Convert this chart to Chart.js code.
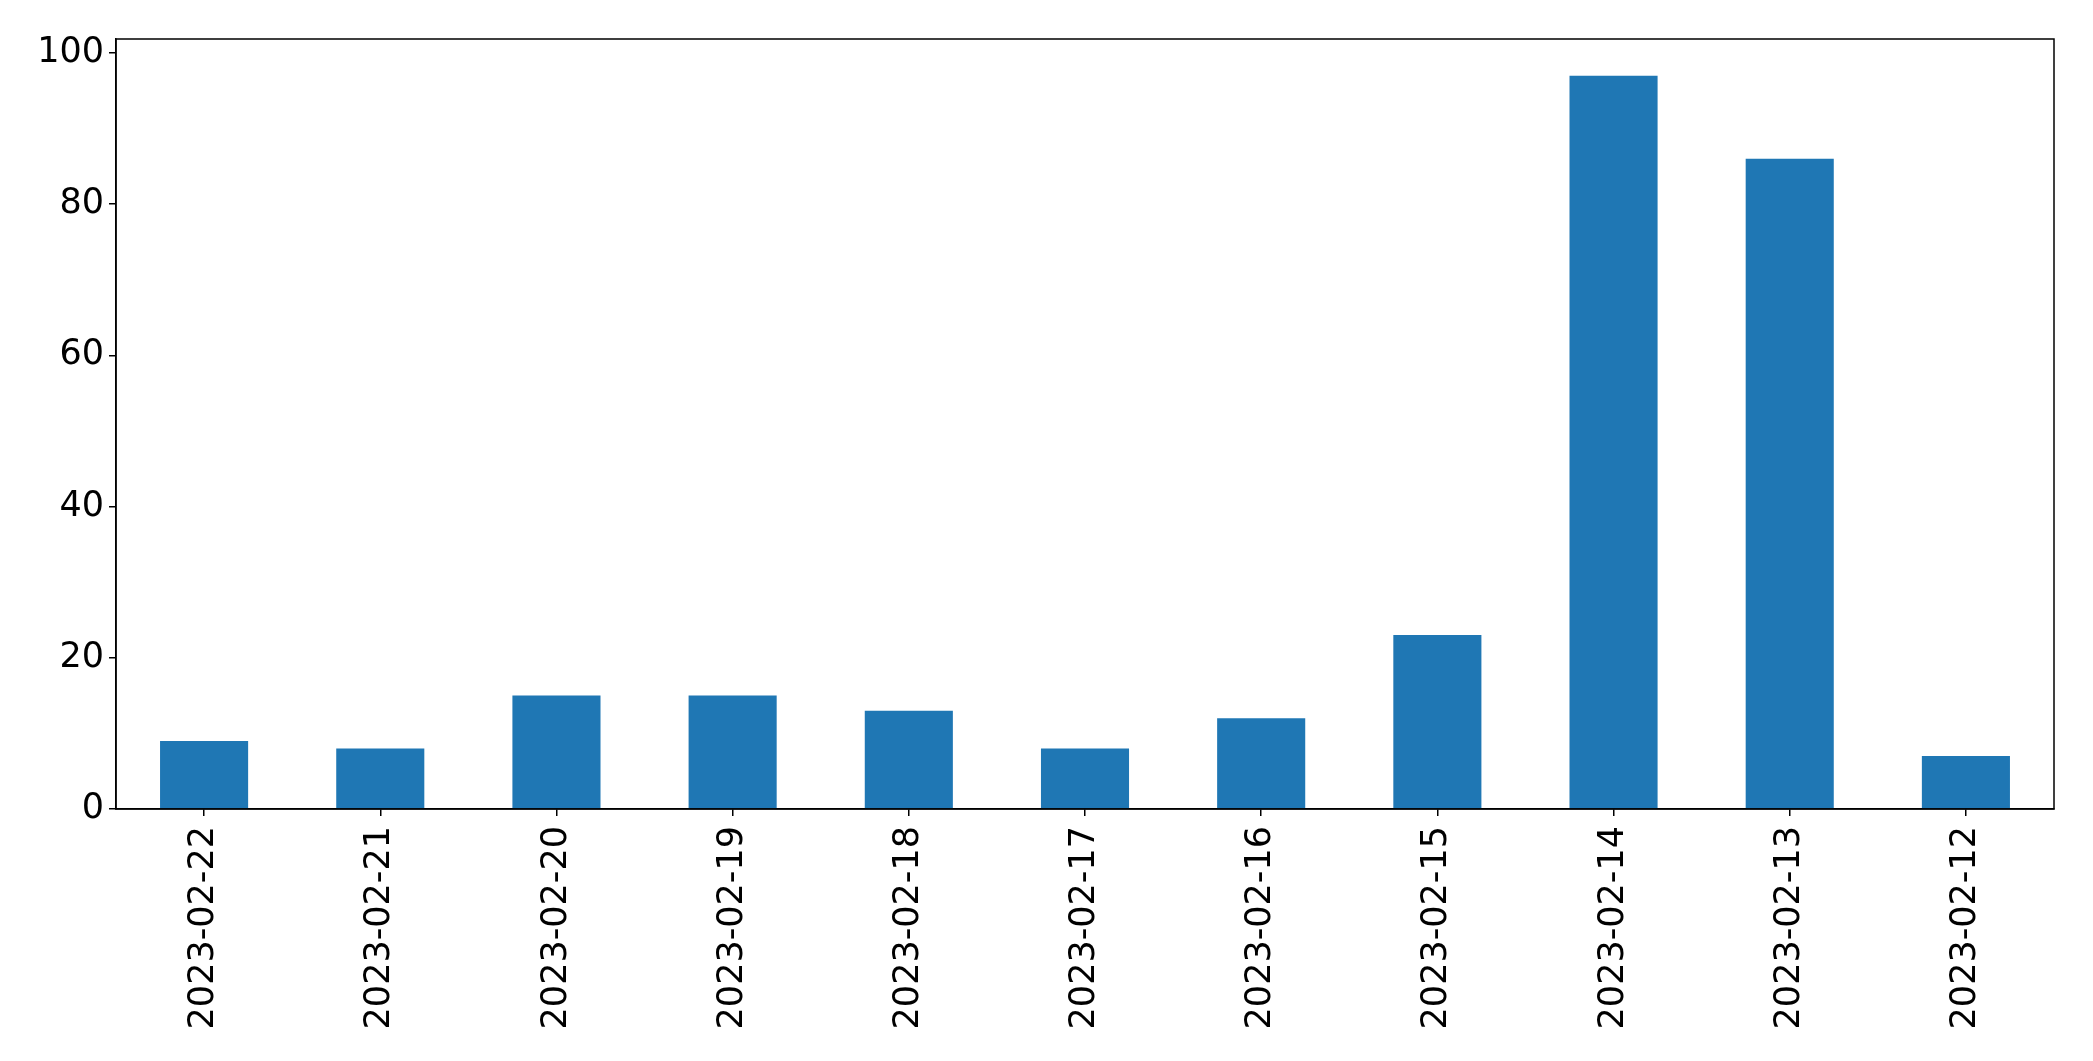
<!DOCTYPE html>
<html>
<head>
<meta charset="utf-8">
<title>Daily counts</title>
<script src="https://cdn.jsdelivr.net/npm/chart.js@4.4.1/dist/chart.umd.min.js"></script>
<style>
  html, body { margin: 0; padding: 0; background: #fff; }
  #dailyChart { display: block; }
</style>
</head>
<body>
<canvas id="dailyChart" width="2093" height="1061"></canvas>
<script>
const dates = ['2023-02-22', '2023-02-21', '2023-02-20', '2023-02-19', '2023-02-18',
  '2023-02-17', '2023-02-16', '2023-02-15', '2023-02-14', '2023-02-13', '2023-02-12'];
const counts = [9, 8, 15, 15, 13, 8, 12, 23, 97, 86, 7];
const yTicks = [0, 20, 40, 60, 80, 100];

// draws the closed box round the plot area, like matplotlib's spines
const frameBox = {
  id: 'frameBox',
  afterDraw(chart) {
    const a = chart.chartArea;
    const c = chart.ctx;
    c.save();
    c.strokeStyle = '#000';
    c.lineWidth = 1.5;
    c.strokeRect(a.left, a.top, a.right - a.left, a.bottom - a.top);
    c.restore();
  }
};

document.addEventListener('DOMContentLoaded', function() {
  const ctx = document.getElementById('dailyChart');
  new Chart(ctx.getContext('2d'), {
    type: 'bar',
    data: {
      labels: dates,
      datasets: [{
        data: counts,
        backgroundColor: '#1f77b4',
        borderWidth: 0,
        categoryPercentage: 1.0,
        barPercentage: 0.5
      }]
    },
    options: {
      responsive: false,
      devicePixelRatio: 1,
      animation: false,
      layout: {
        padding: { top: 39, right: 39, left: 0, bottom: 0 }
      },
      plugins: {
        legend: { display: false },
        tooltip: { enabled: false }
      },
      scales: {
        x: {
          grid: {
            display: true,
            offset: false,
            drawOnChartArea: false,
            drawTicks: true,
            tickLength: 7,
            color: '#000',
            lineWidth: 1.5
          },
          border: { display: true, color: '#000', width: 1.5 },
          ticks: {
            color: '#000',
            padding: 10,
            minRotation: 90,
            maxRotation: 90,
            autoSkip: false,
            font: { family: 'DejaVu Sans', size: 35 }
          },
          afterFit: function(axis) { axis.height = 252; }
        },
        y: {
          min: 0,
          max: 101.85,
          grid: {
            display: true,
            drawOnChartArea: false,
            drawTicks: true,
            tickLength: 7,
            color: '#000',
            lineWidth: 1.5
          },
          border: { display: true, color: '#000', width: 1.5 },
          ticks: {
            color: '#000',
            padding: 5,
            font: { family: 'DejaVu Sans', size: 35 }
          },
          afterBuildTicks: function(axis) {
            axis.ticks = yTicks.map(v => ({ value: v }));
          },
          afterFit: function(axis) { axis.width = 116; }
        }
      }
    },
    plugins: [frameBox]
  });
});
</script>
</body>
</html>
